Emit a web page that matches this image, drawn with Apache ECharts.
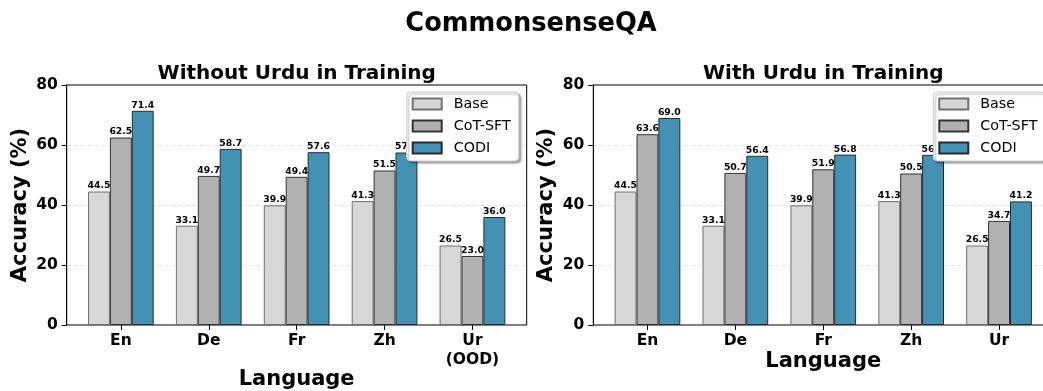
<!DOCTYPE html>
<html>
<head>
<meta charset="utf-8">
<script src="https://cdn.jsdelivr.net/npm/echarts@6/dist/echarts.min.js"></script>
<style>
html,body{margin:0;padding:0;background:#fff;}
#chart{width:1043px;height:391px;}
</style>
</head>
<body>
<div id="chart"></div>
<script>
// ---- data ----
const suptitle = 'CommonsenseQA';
const leftTitle = 'Without Urdu in Training';
const rightTitle = 'With Urdu in Training';
const seriesNames = ['Base', 'CoT-SFT', 'CODI'];
const categoriesLeft = ['En', 'De', 'Fr', 'Zh', 'Ur\n(OOD)'];
const categoriesRight = ['En', 'De', 'Fr', 'Zh', 'Ur'];
const withoutBase = [44.5, 33.1, 39.9, 41.3, 26.5];
const withoutCot = [62.5, 49.7, 49.4, 51.5, 23.0];
const withoutCodi = [71.4, 58.7, 57.6, 57.5, 36.0];
const withBase = [44.5, 33.1, 39.9, 41.3, 26.5];
const withCot = [63.6, 50.7, 51.9, 50.5, 34.7];
const withCodi = [69.0, 56.4, 56.8, 56.7, 41.2];
const yTicks = [0, 20, 40, 60, 80];

// ---- styles ----
const FONT = '"DejaVu Sans", "Liberation Sans", sans-serif';
const fills = ['#d7d7d7', '#b1b1b1', '#4392b3'];
const edges = ['#707070', '#333333', '#2a2a2a'];
const barW = 21.9;

const chart = echarts.init(document.getElementById('chart'), null, {renderer: 'canvas'});

function frameGrid(left) {
  return {left: left, top: 85, width: 460, height: 240, show: true, borderColor: '#000', borderWidth: 1,
          backgroundColor: 'transparent', containLabel: false, outerBoundsMode: 'none'};
}
function barGrid(left) {
  return {left: left, top: 85, width: 439.5, height: 240, show: false, containLabel: false, outerBoundsMode: 'none'};
}
function frameY(gridIndex) {
  return {
    type: 'value', gridIndex: gridIndex, min: yTicks[0], max: yTicks[yTicks.length - 1], interval: 20,
    name: 'Accuracy (%)', nameLocation: 'middle', nameGap: 36, nameMoveOverlap: false,
    nameTextStyle: {fontFamily: FONT, fontWeight: 'bold', fontSize: 21, color: '#000'},
    axisLine: {show: true, lineStyle: {color: '#000', width: 1}},
    axisTick: {show: true, length: 5, lineStyle: {color: '#000', width: 1}},
    axisLabel: {fontFamily: FONT, fontWeight: 'bold', fontSize: 15.5, color: '#000', margin: 9},
    splitLine: {show: true, showMinLine: false, showMaxLine: false, lineStyle: {color: '#dcdcdc', type: [4, 3], width: 0.8}}
  };
}
function hiddenY(gridIndex) {
  return {type: 'value', gridIndex: gridIndex, min: 0, max: 80, show: false};
}
function hiddenX(gridIndex) {
  return {type: 'value', gridIndex: gridIndex, min: 0, max: 1, show: false};
}
function catX(gridIndex, cats, nameGap) {
  return {
    type: 'category', gridIndex: gridIndex, data: cats,
    name: 'Language', nameLocation: 'middle', nameGap: nameGap, nameMoveOverlap: false,
    nameTextStyle: {fontFamily: FONT, fontWeight: 'bold', fontSize: 21, color: '#000', verticalAlign: 'top'},
    axisLine: {show: false},
    axisTick: {show: true, alignWithLabel: true, length: 5, interval: 0, lineStyle: {color: '#000', width: 1}},
    axisLabel: {fontFamily: FONT, fontWeight: 'bold', fontSize: 15.5, color: '#000', margin: 6, lineHeight: 19, interval: 0},
    splitLine: {show: false}
  };
}
function barSeries(name, data, idx, axisIndex) {
  return {
    type: 'bar', name: name, data: data, xAxisIndex: axisIndex, yAxisIndex: axisIndex,
    barWidth: barW, barGap: '0%',
    itemStyle: {color: fills[idx], borderColor: edges[idx], borderWidth: 1},
    label: {show: true, position: 'top', distance: 1, fontFamily: FONT, fontWeight: 'bold', fontSize: 9.3, color: '#000',
            formatter: p => p.value.toFixed(1)},
    emphasis: {disabled: true},
    animation: false
  };
}
function legend(left) {
  return {
    orient: 'vertical', left: left, top: 92, data: seriesNames,
    itemWidth: 29, itemHeight: 11, itemGap: 8, icon: 'rect',
    padding: [5, 8, 6, 5],
    backgroundColor: '#fff', borderColor: '#cccccc', borderWidth: 1, borderRadius: 4,
    shadowColor: 'rgba(0,0,0,0.35)', shadowBlur: 2, shadowOffsetX: 2, shadowOffsetY: 2,
    textStyle: {fontFamily: FONT, fontSize: 14.3, color: '#000', padding: [0, 0, 0, 7]},
    selectedMode: false
  };
}

const option = {
  animation: false,
  backgroundColor: '#fff',
  title: [
    {text: suptitle, left: 531, top: 11, padding: 0, textAlign: 'center', textStyle: {fontFamily: FONT, fontWeight: 'bold', fontSize: 25.7, color: '#000'}},
    {text: leftTitle, left: 296.7, top: 63.5, padding: 0, textAlign: 'center', textStyle: {fontFamily: FONT, fontWeight: 'bold', fontSize: 20, color: '#000'}},
    {text: rightTitle, left: 823.3, top: 63.5, padding: 0, textAlign: 'center', textStyle: {fontFamily: FONT, fontWeight: 'bold', fontSize: 20, color: '#000'}}
  ],
  legend: [legend(406.7), legend(933.3)],
  grid: [frameGrid(66.7), barGrid(76.9), frameGrid(593.3), barGrid(603.5)],
  xAxis: [hiddenX(0), catX(1, categoriesLeft, 44.5), hiddenX(2), catX(3, categoriesRight, 26)],
  yAxis: [frameY(0), hiddenY(1), frameY(2), hiddenY(3)],
  series: [
    barSeries(seriesNames[0], withoutBase, 0, 1),
    barSeries(seriesNames[1], withoutCot, 1, 1),
    barSeries(seriesNames[2], withoutCodi, 2, 1),
    barSeries(seriesNames[0], withBase, 0, 3),
    barSeries(seriesNames[1], withCot, 1, 3),
    barSeries(seriesNames[2], withCodi, 2, 3)
  ]
};
chart.setOption(option);
</script>
</body>
</html>
